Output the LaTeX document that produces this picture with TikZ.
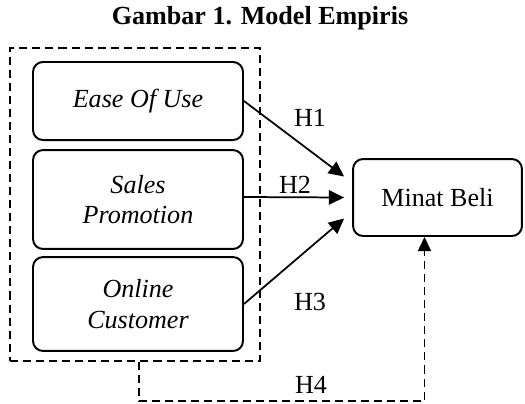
\documentclass[tikz,border=0pt]{standalone}
\usepackage{fontspec}
\setmainfont{Liberation Serif}
\usetikzlibrary{arrows.meta,calc}

\begin{document}
\begin{tikzpicture}[x=0.46pt, y=-0.46pt,
        font=\fontsize{12}{14}\selectfont,
        var/.style={draw, line width=0.9pt, rounded corners=4.6pt, inner sep=0pt,
            align=center, minimum width=96.6pt, font=\fontsize{12}{14}\selectfont\itshape},
        link/.style={-{Triangle[length=7pt,width=6.6pt]}, line width=0.8pt},
        dashline/.style={line width=0.75pt, dash pattern=on 3.7pt off 2.3pt}]
        \useasboundingbox (0,0) rectangle (525,403);

        \node[font=\fontsize{12}{14}\selectfont\bfseries] (title) at (260,18) {Gambar 1. Model Empiris};

        % variabel bebas
        \node[var, minimum height=35.9pt] at (138,101)(eou){Ease Of Use};
        \node[var, minimum height=45.5pt] at (138,199.5)(sp){Sales\\Promotion};
        \node[var, minimum height=43.2pt] at (138,304)(oc){Online\\Customer};
        \node[draw, dashline, inner sep=0pt, minimum width=115pt, minimum height=144pt] at (135,204.5)(grup){};

        % variabel terikat
        \node[draw, line width=0.9pt, rounded corners=4.6pt, inner sep=0pt,
            minimum width=77.7pt, minimum height=35.4pt] at (437.5,197.5)(mb){Minat Beli};

        \draw[link] (eou.east) -- ($(mb.west)+(-8,-21)$);
        \draw[link] (sp.east |- 0,197) -- ($(mb.west)+(-8,0)$);
        \draw[link] (oc.east) -- ($(mb.west)+(-8,21)$);
        \draw[dashline, -{Triangle[length=6.5pt,width=6pt]}]
            (grup.south -| 139,0) -- (139,401) -| ($(mb.south)+(-13,0)$);

        \node at (310,118)(h1){H1};
        \node at (295,185)(h2){H2};
        \node at (310,302)(h3){H3};
        \node at (311,385)(h4){H4};
    \end{tikzpicture}
\end{document}
